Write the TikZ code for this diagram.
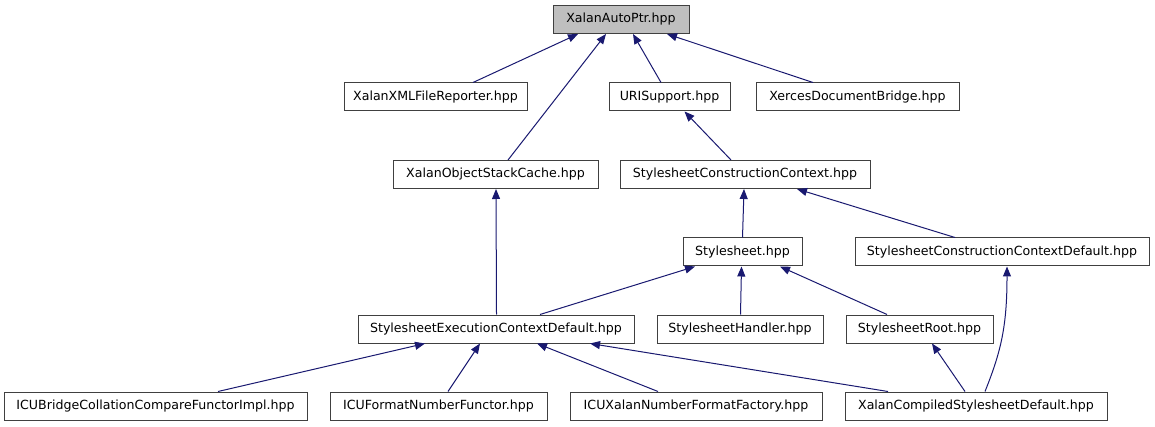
\documentclass[tikz,border=0pt]{standalone}
\usepackage{fontspec}
\setmainfont{DejaVu Sans}
\usetikzlibrary{arrows.meta}
\definecolor{edgeblue}{RGB}{25,25,112}
\definecolor{boxline}{RGB}{64,64,64}
\definecolor{rootfill}{RGB}{191,191,191}
\begin{document}
\begin{tikzpicture}[x=1pt,y=-1pt,
  box/.style={draw=boxline,line width=1pt,fill=white,minimum height=28pt,inner sep=0pt,
    font=\fontsize{12.6}{14}\selectfont},
  rootbox/.style={box,fill=rootfill},
  edge/.style={draw=edgeblue,line width=1pt,-{Triangle[length=10pt,width=8pt]}}]
\useasboundingbox (0,0) rectangle (1155,427);
% row 1
\node[rootbox,minimum width=136pt] (apt) at (621,19.5) {XalanAutoPtr.hpp};
% row 2
\node[box,minimum width=183pt] (xml) at (435.5,97) {XalanXMLFileReporter.hpp};
\node[box,minimum width=121pt] (uri) at (669.5,97) {URISupport.hpp};
\node[box,minimum width=203pt] (xdb) at (857.5,97) {XercesDocumentBridge.hpp};
% row 3
\node[box,minimum width=205pt] (xosc) at (495.5,174.5) {XalanObjectStackCache.hpp};
\node[box,minimum width=250pt] (scc) at (745,174.5) {StylesheetConstructionContext.hpp};
% row 4
\node[box,minimum width=119pt] (ss) at (742.5,252) {Stylesheet.hpp};
\node[box,minimum width=294pt] (sccd) at (1002,252) {StylesheetConstructionContextDefault.hpp};
% row 5
\node[box,minimum width=276pt] (secd) at (496,329) {StylesheetExecutionContextDefault.hpp};
\node[box,minimum width=166pt] (sh) at (740,329) {StylesheetHandler.hpp};
\node[box,minimum width=147pt] (sr) at (919.5,329) {StylesheetRoot.hpp};
% row 6
\node[box,minimum width=303pt] (icub) at (155.5,406) {ICUBridgeCollationCompareFunctorImpl.hpp};
\node[box,minimum width=217pt] (icuf) at (438.5,406) {ICUFormatNumberFunctor.hpp};
\node[box,minimum width=252pt] (icux) at (696,406) {ICUXalanNumberFormatFactory.hpp};
\node[box,minimum width=262pt] (xcsd) at (976,406) {XalanCompiledStylesheetDefault.hpp};
% edges
\draw[edge] ([xshift=37.5pt]xml.north) -- ([xshift=-43pt]apt.south);
\draw[edge] ([xshift=12.5pt]xosc.north) -- ([xshift=-15pt]apt.south);
\draw[edge] ([xshift=-8.5pt]uri.north) -- ([xshift=12pt]apt.south);
\draw[edge] ([xshift=-44.5pt]xdb.north) -- ([xshift=46pt]apt.south);
\draw[edge] ([xshift=-14pt]scc.north) -- ([xshift=15pt]uri.south);
\draw[edge] ([xshift=0.5pt]secd.north) -- ([xshift=0.5pt]xosc.south);
\draw[edge] ([xshift=0pt]ss.north) -- ([xshift=-1pt]scc.south);
\draw[edge] ([xshift=-47pt]sccd.north) -- ([xshift=52pt]scc.south);
\draw[edge] ([xshift=44pt]secd.north) -- ([xshift=-47.5pt]ss.south);
\draw[edge] ([xshift=0.5pt]sh.north) -- ([xshift=-1pt]ss.south);
\draw[edge] ([xshift=-32.5pt]sr.north) -- ([xshift=37.5pt]ss.south);
\draw[edge] ([xshift=-11pt]xcsd.north) -- ([xshift=12.5pt]sr.south);
\draw[edge] ([xshift=9pt]xcsd.north) .. controls +(16,-40) and +(0,60) .. ([xshift=5pt]sccd.south);
\draw[edge] ([xshift=62.5pt]icub.north) -- ([xshift=-71pt]secd.south);
\draw[edge] ([xshift=9.5pt]icuf.north) -- ([xshift=-16pt]secd.south);
\draw[edge] ([xshift=-38pt]icux.north) -- ([xshift=41pt]secd.south);
\draw[edge] ([xshift=-88pt]xcsd.north) -- ([xshift=94pt]secd.south);
\end{tikzpicture}
\end{document}
